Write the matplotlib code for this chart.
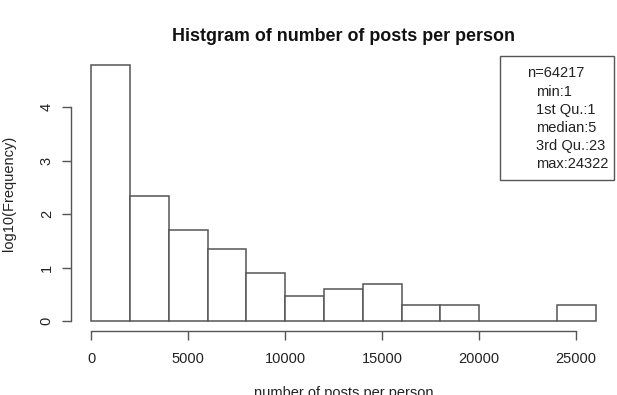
import matplotlib
matplotlib.use("Agg")
import matplotlib.pyplot as plt
import numpy as np

# Data
bin_edges = [0, 2000, 4000, 6000, 8000, 10000, 12000, 14000, 16000, 18000,
             20000, 22000, 24000, 26000]
log_freq = [4.80, 2.345, 1.70, 1.35, 0.90, 0.477, 0.602, 0.699, 0.301, 0.301,
            0.0, 0.0, 0.301]
x_ticks = [0, 5000, 10000, 15000, 20000, 25000]
y_ticks = [0, 1, 2, 3, 4]
summary_lines = ["n=64217", "min:1", "1st Qu.:1", "median:5", "3rd Qu.:23", "max:24322"]

W, H = 617, 395
plt.rcParams['font.family'] = ['Liberation Sans', 'DejaVu Sans']
fig = plt.figure(figsize=(W / 100, H / 100), dpi=100)

left, right = 71.0 / W, 615.8 / W
bottom, top = 1 - 331.3 / H, 1 - 54.4 / H
ax = fig.add_axes([left, bottom, right - left, top - bottom])
ax.patch.set_alpha(0)

edges = np.array(bin_edges)
widths = np.diff(edges)
ax.bar(edges[:-1], log_freq, width=widths, align='edge', facecolor='white',
       edgecolor='#555555', linewidth=1.1)

ax.set_xlim(-1040, 27040)
ax.set_ylim(-0.192, 4.992)

for s in ['top', 'right']:
    ax.spines[s].set_visible(False)
ax.spines['left'].set_bounds(0, 4)
ax.spines['bottom'].set_bounds(0, 25000)
for s in ['left', 'bottom']:
    ax.spines[s].set_color('#555555')
    ax.spines[s].set_linewidth(1.0)

ax.set_xticks(x_ticks)
ax.set_xticklabels([str(v) for v in x_ticks])
ax.set_yticks(y_ticks)
ax.set_yticklabels([str(v) for v in y_ticks], rotation=90, va='center')
ax.tick_params(axis='both', direction='out', length=6.5, width=1.0,
               color='#555555', labelsize=10.5, labelcolor='#222222')
ax.tick_params(axis='x', pad=8.2)
ax.tick_params(axis='y', pad=5.9)

fig.text(0.5 * (left + right), 1 - 36.5 / H, "Histgram of number of posts per person",
         ha='center', va='center', fontsize=12.9, fontweight='bold', color='#111111')
fig.text(0.5 * (left + right), 1 - 393 / H, "number of posts per person",
         ha='center', va='center', fontsize=10.5, color='#222222')
fig.text(9.5 / W, 1 - 193 / H, "log10(Frequency)", rotation=90,
         ha='center', va='center', fontsize=10.5, color='#222222')

# summary box
bx0, bx1, by0, by1 = 500, 614, 55.5, 180
rect = plt.Rectangle((bx0 / W, 1 - by1 / H), (bx1 - bx0) / W, (by1 - by0) / H,
                     transform=fig.transFigure, facecolor='white',
                     edgecolor='#555555', linewidth=1.0)
fig.patches.append(rect)
line_y = [73.3, 91.5, 109.6, 127.7, 145.8, 164]
for i, (txt, yy) in enumerate(zip(summary_lines, line_y)):
    xx = 527 if i == 0 else 536
    fig.text(xx / W, 1 - yy / H, txt, ha='left', va='center', fontsize=10.5,
             color='#222222')

fig.savefig("out.png", dpi=100)
